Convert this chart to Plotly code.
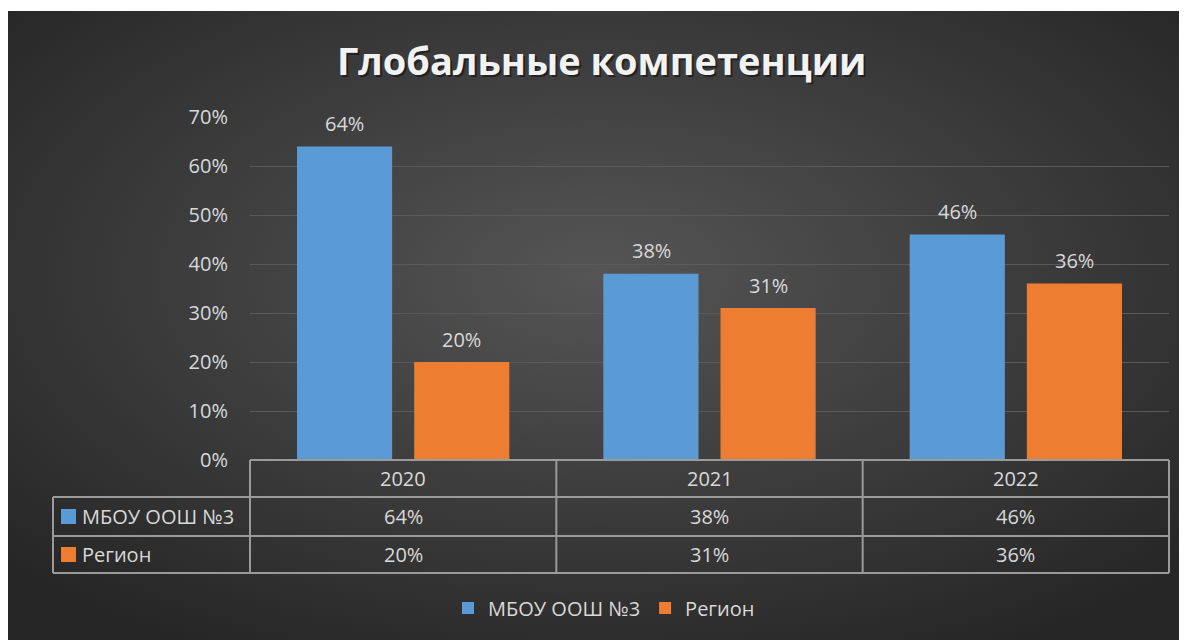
import base64
import plotly.graph_objects as go

years = ["2020", "2021", "2022"]
series_names = ["МБОУ ООШ №3", "Регион"]
school_values = [0.64, 0.38, 0.46]
region_values = [0.20, 0.31, 0.36]
y_tick_vals = [0, 0.1, 0.2, 0.3, 0.4, 0.5, 0.6, 0.7]
y_tick_text = ["0%", "10%", "20%", "30%", "40%", "50%", "60%", "70%"]
title_text = "Глобальные компетенции"

BLUE = "#5b9bd5"
ORANGE = "#ed7d31"
TXT = "#d9d9d9"
LINE = "#9a9a9a"
FONT = "Open Sans"
FS = 20

# page offset (body margin) in screenshot
OX, OY = 8, 8
W, H = 1179, 632
ML, MR, MT, MB = 242, 18, 109, 180
PW = W - ML - MR
PH = H - MT - MB


def px_x(px):  # screenshot px -> paper x
    return (px - OX - ML) / PW


def px_y(py):  # screenshot px -> paper y
    return (H - MB - (py - OY)) / PH


svg = f'''<svg xmlns="http://www.w3.org/2000/svg" width="{W}" height="{H}">
<defs><radialGradient id="g" cx="0.5" cy="0.42" r="0.68">
<stop offset="0" stop-color="#555555"/><stop offset="1" stop-color="#262626"/>
</radialGradient></defs>
<rect x="0" y="3" width="{W}" height="{H-3}" fill="url(#g)"/></svg>'''
bg_src = "data:image/svg+xml;base64," + base64.b64encode(svg.encode()).decode()

fig = go.Figure()
fig.add_trace(go.Bar(x=years, y=school_values, name=series_names[0],
                     marker=dict(color=BLUE, line=dict(width=0))))
fig.add_trace(go.Bar(x=years, y=region_values, name=series_names[1],
                     marker=dict(color=ORANGE, line=dict(width=0))))

shapes = []
annotations = []
n = len(years)

# data labels above bars
for vals, xs in ((school_values, -58.5), (region_values, 58.5)):
    for i, v in enumerate(vals):
        annotations.append(dict(x=(i + 0.5) / n, y=v, xref="paper", yref="y",
                                text=f"{v*100:.0f}%",
                                showarrow=False, xshift=xs, yshift=23,
                                xanchor="center", yanchor="middle",
                                font=dict(color=TXT, size=FS, family=FONT)))

row_lines = [460, 497, 536, 573]
left_px = 53
lines = []
lines.append(dict(x0=0, x1=1, y0=px_y(row_lines[0]), y1=px_y(row_lines[0])))
for r in row_lines[1:]:
    lines.append(dict(x0=px_x(left_px), x1=1, y0=px_y(r), y1=px_y(r)))
for k in range(n + 1):
    lines.append(dict(x0=k / n, x1=k / n, y0=px_y(row_lines[0]), y1=px_y(row_lines[-1])))
lines.append(dict(x0=px_x(left_px), x1=px_x(left_px), y0=px_y(row_lines[1]), y1=px_y(row_lines[-1])))
for l in lines:
    l.update(type="line", xref="paper", yref="paper", layer="above",
             line=dict(color=LINE, width=2))
    shapes.append(l)

rows = [years, [f"{v*100:.0f}%" for v in school_values], [f"{v*100:.0f}%" for v in region_values]]
for ri, row in enumerate(rows):
    yc = px_y((row_lines[ri] + row_lines[ri + 1]) / 2)
    for ci, val in enumerate(row):
        annotations.append(dict(x=(ci + 0.5) / n, y=yc, xref="paper", yref="paper",
                                text=val, showarrow=False, xanchor="center", yanchor="middle",
                                font=dict(color=TXT, size=FS, family=FONT)))

for si, (name, col) in enumerate(zip(series_names, [BLUE, ORANGE])):
    yc_px = (row_lines[si + 1] + row_lines[si + 2]) / 2
    shapes.append(dict(type="rect", xref="paper", yref="paper",
                       x0=px_x(61), x1=px_x(76), y0=px_y(yc_px - 7.5), y1=px_y(yc_px + 7.5),
                       fillcolor=col, line=dict(width=0)))
    annotations.append(dict(x=px_x(80), y=px_y(yc_px), xref="paper", yref="paper",
                            text=name, showarrow=False, xanchor="left", yanchor="middle",
                            font=dict(color=TXT, size=FS, family=FONT)))

# title with soft shadow
annotations.append(dict(x=px_x(603), y=px_y(62), xref="paper", yref="paper",
                        text=f"<b>{title_text}</b>", showarrow=False,
                        xanchor="center", yanchor="middle",
                        font=dict(color="rgba(0,0,0,0.45)", size=38, family=FONT)))
annotations.append(dict(x=px_x(601), y=px_y(60), xref="paper", yref="paper",
                        text=f"<b>{title_text}</b>", showarrow=False,
                        xanchor="center", yanchor="middle",
                        font=dict(color="#f2f2f2", size=38, family=FONT)))

fig.update_layout(
    width=W, height=H,
    margin=dict(l=ML, r=MR, t=MT, b=MB),
    paper_bgcolor="white", plot_bgcolor="rgba(0,0,0,0)",
    barmode="group", bargap=0.235, bargroupgap=0.188,
    showlegend=True,
    legend=dict(orientation="h", x=px_x(604), xanchor="center", y=px_y(608), yanchor="middle",
                font=dict(color=TXT, size=FS, family=FONT), bgcolor="rgba(0,0,0,0)",
                tracegroupgap=0),
    xaxis=dict(type="category", showticklabels=False, showgrid=False, zeroline=False,
               showline=False, range=[-0.5, 2.5]),
    yaxis=dict(range=[0, 0.7], tickvals=y_tick_vals, ticktext=y_tick_text,
               showgrid=True, gridcolor="#5a5a5a", gridwidth=1, zeroline=False,
               showline=False, ticks="", ticklabelstandoff=21,
               tickfont=dict(color=TXT, size=FS, family=FONT)),
    shapes=shapes, annotations=annotations,
    images=[dict(source=bg_src, xref="paper", yref="paper",
                 x=-ML / PW, y=1 + MT / PH, sizex=W / PW, sizey=H / PH,
                 xanchor="left", yanchor="top", sizing="stretch", layer="below")],
)

fig.write_html("out.html")
